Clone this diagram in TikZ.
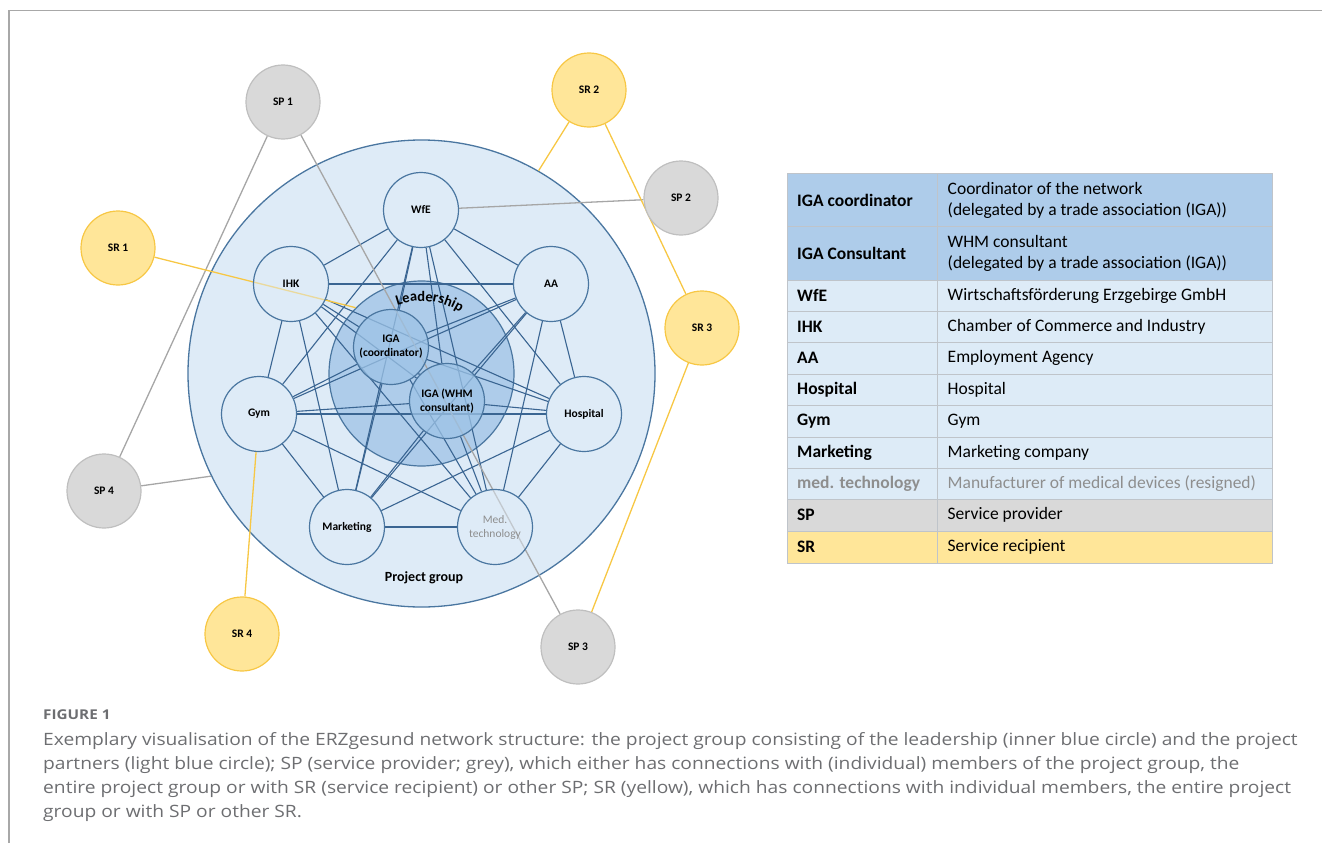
\documentclass[tikz,border=0pt]{standalone}
\usepackage{fontspec}
\setmainfont{Carlito}
\newfontfamily\capfont[FakeStretch=1.13]{Open Sans}
\usetikzlibrary{decorations.text}
\pgfdeclarelayer{bg}
\pgfdeclarelayer{edges}
\pgfsetlayers{bg,edges,main}
\definecolor{pgfill}{HTML}{DEEBF7}
\definecolor{pgline}{HTML}{4A76A0}
\definecolor{leadfill}{HTML}{AECCEA}
\definecolor{igafill}{HTML}{9DC3E6}
\definecolor{edgeblue}{HTML}{3A6592}
\definecolor{spfill}{HTML}{D9D9D9}
\definecolor{spline}{HTML}{BFBFBF}
\definecolor{graylk}{HTML}{A6A6A6}
\definecolor{srfill}{HTML}{FFE699}
\definecolor{srline}{HTML}{F7C744}
\definecolor{hdrfill}{HTML}{AECCEA}
\definecolor{rowfill}{HTML}{DDEBF7}
\definecolor{gridc}{HTML}{BFC4CA}
\definecolor{captxt}{HTML}{6D6E71}
\definecolor{medgray}{HTML}{8E8E8E}
\definecolor{framec}{HTML}{A8A8A8}
\tikzset{
  member/.style={circle, draw=pgline, line width=1.2pt, fill=pgfill, fill opacity=0.5, text opacity=1,
    minimum size=75pt, inner sep=0pt, align=center, font=\bfseries\fontsize{11.5}{14}\selectfont},
  igabox/.style={member, fill=igafill, fill opacity=0.75},
  spbox/.style={circle, draw=spline, line width=1.2pt, fill=spfill, minimum size=74pt, inner sep=0pt,
    font=\bfseries\fontsize{11.5}{14}\selectfont},
  srbox/.style={spbox, draw=srline, fill=srfill},
  bluelink/.style={draw=edgeblue, line width=1.1pt},
  greylink/.style={draw=graylk, line width=1.3pt},
  yellowlink/.style={draw=srline, line width=1.3pt},
  celltxt/.style={anchor=west, inner sep=0pt, align=left, font=\fontsize{17.5}{21}\selectfont},
  cellbold/.style={celltxt, font=\bfseries\fontsize{17.5}{21}\selectfont},
  captext/.style={anchor=base west, inner sep=0pt, text=captxt, font=\capfont\fontsize{17}{24}\selectfont}
}
\begin{document}
\begin{tikzpicture}[x=1pt,y=-1pt]
\useasboundingbox (0,0) rectangle (1322,843);
% frame
\draw[framec, line width=1.5pt] (9,843) -- (9,10.5) -- (1322,10.5);

% big circles
\begin{pgfonlayer}{bg}
\node[circle, draw=pgline, line width=1.3pt, fill=pgfill, minimum size=467pt, inner sep=0pt] (pg) at (421.5,373.5) {};
\node[circle, draw=pgline, line width=1.2pt, fill=leadfill, minimum size=185pt, inner sep=0pt] (lead) at (421.5,373.5) {};
\end{pgfonlayer}

% members
\node[member] (wfe)  at (421,210) {WfE};
\node[member] (ihk)  at (291,284) {IHK};
\node[member] (aa)   at (551,284) {AA};
\node[member] (gym)  at (259,414) {Gym};
\node[member] (hosp) at (584,414) {Hospital};
\node[member] (mkt)  at (347,527) {Marketing};
\node[member, text=medgray] (med) at (495,527) {\mdseries Med.\\\mdseries technology};
\node[igabox] (igac) at (391,347) {IGA\\(coordinator)};
\node[igabox] (igaw) at (447,401) {IGA (WHM\\consultant)};

% outside
\node[spbox] (sp1) at (283,102) {SP 1};
\node[srbox] (sr2) at (589,90) {SR 2};
\node[spbox] (sp2) at (681,198) {SP 2};
\node[srbox] (sr1) at (118,248) {SR 1};
\node[srbox] (sr3) at (702,328) {SR 3};
\node[spbox] (sp4) at (104,491) {SP 4};
\node[srbox] (sr4) at (242,634) {SR 4};
\node[spbox] (sp3) at (578,647) {SP 3};

% labels
\path[decorate, decoration={text along path, text align=center,
  text={|\bfseries\fontsize{14.5}{16}\selectfont|Leadership}}]
  (lead.center) ++(235:72.5) arc[start angle=235, end angle=318, radius=72.5];
\node[font=\bfseries\fontsize{14}{16}\selectfont] (pglabel) at (424,578) {Project group};

\begin{pgfonlayer}{edges}
\foreach \a/\b in {wfe/ihk, wfe/aa, wfe/gym, wfe/hosp, wfe/mkt, wfe/med, wfe/igac, wfe/igaw,
  ihk/aa, ihk/gym, ihk/hosp, ihk/mkt, ihk/med, ihk/igac, ihk/igaw,
  aa/gym, aa/hosp, aa/mkt, aa/med, aa/igac, aa/igaw,
  gym/hosp, gym/mkt, gym/med, gym/igac, gym/igaw,
  hosp/mkt, hosp/med, hosp/igac, hosp/igaw,
  mkt/med, mkt/igac, mkt/igaw,
  med/igac, med/igaw, igac/igaw}
  \draw[bluelink] (\a) -- (\b);
\draw[greylink] (sp1) -- (sp4);
\draw[greylink] (sp1) -- (sp3);
\draw[greylink] (wfe) -- (sp2);
\draw[greylink] (sp4) -- (pg.206);
\draw[yellowlink] (sr1) -- (lead.135);
\draw[yellowlink] (sr2) -- (pg.60);
\draw[yellowlink] (sr2) -- (sr3);
\draw[yellowlink] (sr3) -- (sp3);
\draw[yellowlink] (gym) -- (sr4);
\end{pgfonlayer}

% table
\fill[hdrfill] (787,173.5) rectangle (1272.5,280);
\fill[rowfill] (787,280) rectangle (1272.5,499.5);
\fill[spfill] (787,499.5) rectangle (1272.5,531);
\fill[srfill] (787,531) rectangle (1272.5,563.5);
\foreach \yy in {226,280,311,342,374,405.5,437,468.5,499.5,531}
  \draw[gridc, line width=1pt] (787,\yy) -- (1272.5,\yy);
\draw[gridc, line width=1pt] (787,173.5) rectangle (1272.5,563.5);
\draw[gridc, line width=1pt] (937.5,173.5) -- (937.5,563.5);

\node[cellbold] (l1) at (797,200) {IGA coordinator};
\node[celltxt]  (r1) at (947.5,200) {Coordinator of the network\\(delegated by a trade association (IGA))};
\node[cellbold] (l2) at (797,253) {IGA Consultant};
\node[celltxt]  (r2) at (947.5,253) {WHM consultant\\(delegated by a trade association (IGA))};
\node[cellbold] (l3) at (797,295.5) {WfE};
\node[celltxt]  (r3) at (947.5,295.5) {Wirtschaftsförderung Erzgebirge GmbH};
\node[cellbold] (l4) at (797,326.5) {IHK};
\node[celltxt]  (r4) at (947.5,326.5) {Chamber of Commerce and Industry};
\node[cellbold] (l5) at (797,358) {AA};
\node[celltxt]  (r5) at (947.5,358) {Employment Agency};
\node[cellbold] (l6) at (797,389.8) {Hospital};
\node[celltxt]  (r6) at (947.5,389.8) {Hospital};
\node[cellbold] (l7) at (797,421.3) {Gym};
\node[celltxt]  (r7) at (947.5,421.3) {Gym};
\node[cellbold] (l8) at (797,452.8) {Marketing};
\node[celltxt]  (r8) at (947.5,452.8) {Marketing company};
\node[cellbold, text=medgray] (l9) at (797,484) {med. technology};
\node[celltxt, text=medgray]  (r9) at (947.5,484) {Manufacturer of medical devices (resigned)};
\node[cellbold] (l10) at (797,515.3) {SP};
\node[celltxt]  (r10) at (947.5,515.3) {Service provider};
\node[cellbold] (l11) at (797,547.3) {SR};
\node[celltxt]  (r11) at (947.5,547.3) {Service recipient};

% caption
\node[anchor=base west, inner sep=0pt, text=captxt, font=\capfont\bfseries\fontsize{13.5}{16}\selectfont] (fig) at (43,719.5) {FIGURE 1};
\node[captext] (c1) at (43,745) {Exemplary visualisation of the ERZgesund network structure: the project group consisting of the leadership (inner blue circle) and the project};
\node[captext] (c2) at (43,769) {partners (light blue circle); SP (service provider; grey), which either has connections with (individual) members of the project group, the};
\node[captext] (c3) at (43,793) {entire project group or with SR (service recipient) or other SP; SR (yellow), which has connections with individual members, the entire project};
\node[captext] (c4) at (43,817) {group or with SP or other SR.};
\end{tikzpicture}
\end{document}
